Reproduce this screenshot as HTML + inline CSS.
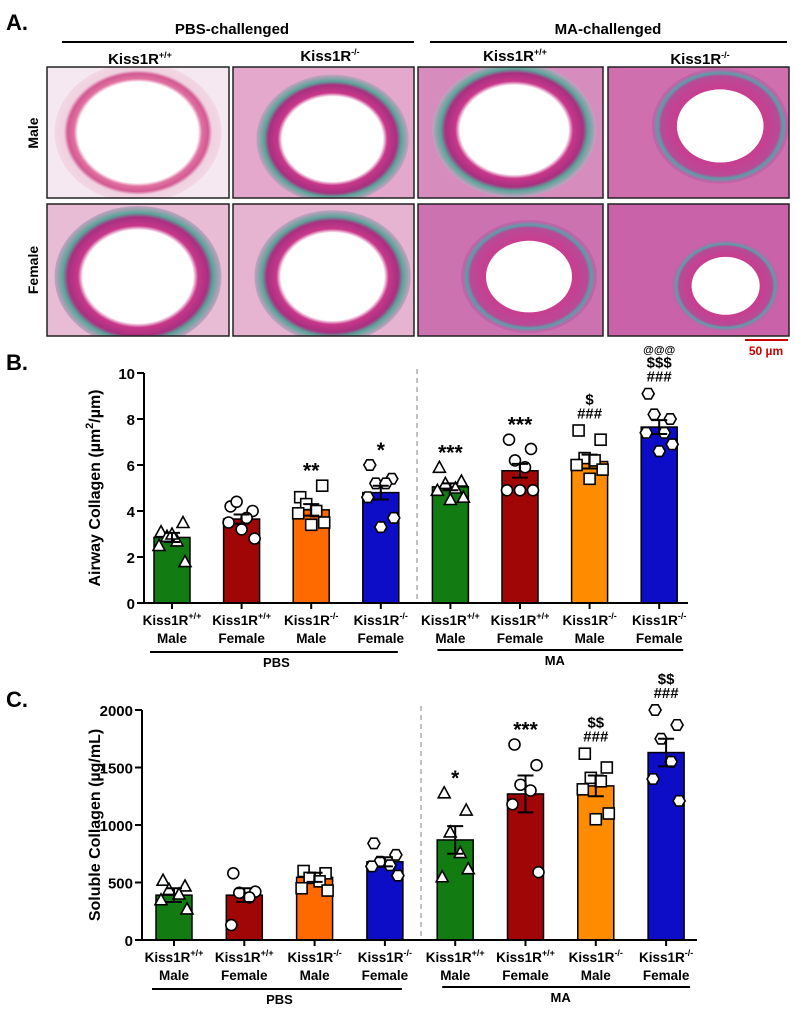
<!DOCTYPE html>
<html><head><meta charset="utf-8">
<style>
body{margin:0;background:#fff;width:796px;height:1016px;overflow:hidden;font-family:"Liberation Sans",Arial,sans-serif}
svg text{font-family:"Liberation Sans",Arial,sans-serif;font-weight:bold}
</style></head>
<body>
<svg id="fig" width="796" height="1016" viewBox="0 0 796 1016" xmlns="http://www.w3.org/2000/svg">
<defs>
<radialGradient id="tissA" cx="50%" cy="50%" r="60%"><stop offset="0" stop-color="#fff"/><stop offset="0.6" stop-color="#fff"/><stop offset="0.64" stop-color="#e070a0"/><stop offset="0.7" stop-color="#d25a92"/><stop offset="0.74" stop-color="#f0d0e0"/><stop offset="1" stop-color="#f6e6ee"/></radialGradient>
<radialGradient id="tissB" cx="50%" cy="50%" r="60%"><stop offset="0" stop-color="#fff"/><stop offset="0.55" stop-color="#fff"/><stop offset="0.6" stop-color="#c8378a"/><stop offset="0.7" stop-color="#a83080"/><stop offset="0.75" stop-color="#5aa59a"/><stop offset="0.85" stop-color="#dba0c8"/><stop offset="1" stop-color="#eecbe0"/></radialGradient>
<radialGradient id="tissC" cx="50%" cy="50%" r="60%"><stop offset="0" stop-color="#fff"/><stop offset="0.45" stop-color="#fff"/><stop offset="0.5" stop-color="#cc3b8e"/><stop offset="0.72" stop-color="#b84a96"/><stop offset="0.76" stop-color="#5a9ea8"/><stop offset="0.82" stop-color="#c660a8"/><stop offset="1" stop-color="#cc74b2"/></radialGradient>
</defs>
<g id="panelA">
<text x="6" y="30" font-size="22">A.</text>
<text x="232" y="34" font-size="15" text-anchor="middle">PBS-challenged</text>
<line x1="62" y1="42" x2="414" y2="42" stroke="#000" stroke-width="2"/>
<text x="608" y="34" font-size="15" text-anchor="middle">MA-challenged</text>
<line x1="430" y1="42" x2="787" y2="42" stroke="#000" stroke-width="2"/>
<text x="140" y="64" font-size="15" text-anchor="middle">Kiss1R<tspan font-size="9" dy="-6">+/+</tspan></text>
<text x="330" y="61" font-size="15" text-anchor="middle">Kiss1R<tspan font-size="9" dy="-6">-/-</tspan></text>
<text x="515" y="61" font-size="15" text-anchor="middle">Kiss1R<tspan font-size="9" dy="-6">+/+</tspan></text>
<text x="700" y="64" font-size="15" text-anchor="middle">Kiss1R<tspan font-size="9" dy="-6">-/-</tspan></text>
<text transform="translate(38,133) rotate(-90)" font-size="14" text-anchor="middle">Male</text>
<text transform="translate(38,270) rotate(-90)" font-size="14" text-anchor="middle">Female</text>
<g id="micro"></g>
<line x1="745" y1="340" x2="788" y2="340" stroke="#c00" stroke-width="2"/>
<text x="766" y="355" font-size="12" fill="#c00" text-anchor="middle">50 µm</text>
</g>
<g id="chartB"></g>
<g id="chartC"></g>
</svg>
<script>
// ---- Data ----
const groupsTop = ["Kiss1R+/+","Kiss1R+/+","Kiss1R-/-","Kiss1R-/-","Kiss1R+/+","Kiss1R+/+","Kiss1R-/-","Kiss1R-/-"];
const groupsSex = ["Male","Female","Male","Female","Male","Female","Male","Female"];
const barColors = ["#127c12","#a10606","#ff6a00","#0d0dc8","#127c12","#a10606","#ff8c00","#0d0dc8"];
const markers = ["tri","circ","sq","hex","tri","circ","sq","hex"];

const airwayMeans = [2.85,3.65,4.05,4.8,5.05,5.75,6.15,7.65];
const airwaySem = [0.2,0.2,0.25,0.3,0.15,0.3,0.3,0.3];
const airwayPoints = [
 [3.1,3.5,2.9,2.7,2.5,1.8,3.0],
 [4.2,4.0,4.4,3.7,3.5,2.8,3.2],
 [4.6,5.1,4.3,4.0,3.9,3.5,3.4],
 [6.0,5.4,5.2,5.2,4.6,3.7,3.3],
 [5.9,5.3,5.2,5.0,4.9,4.6,4.5],
 [7.1,6.7,6.2,5.9,4.9,4.9,4.9],
 [7.5,7.1,6.3,6.2,6.0,5.8,5.4],
 [9.1,8.0,8.2,7.4,7.4,6.9,6.6]];
const airwayTicks = [0,2,4,6,8,10];
const airwayAnnot = [[],[],["**"],["*"],["***"],["***"],["###","$"],["###","$$$","@@@"]];

const solMeans = [390,390,545,680,870,1270,1340,1630];
const solSem = [60,60,40,40,120,160,90,120];
const solPoints = [
 [520,470,440,400,350,270],
 [580,420,410,370,130],
 [600,580,540,510,450,430],
 [840,740,680,650,640,560],
 [1280,1130,940,760,550,620],
 [1700,1520,1350,1300,1180,590],
 [1620,1500,1410,1380,1310,1100,1050],
 [2000,1870,1750,1550,1400,1210]];
const solTicks = [0,500,1000,1500,2000];
const solAnnot = [[],[],[],[],["*"],["***"],["###","$$"],["###","$$"]];

const NS="http://www.w3.org/2000/svg";
function mk(tag,attrs,parent){const e=document.createElementNS(NS,tag);for(const k in attrs)e.setAttribute(k,attrs[k]);parent.appendChild(e);return e;}

// ---- Micrographs ----
const micro=document.getElementById('micro');
const cols=[[47,182],[233,181],[418,185],[608,181]];
const rows=[[67,131],[204,132]];
const grads=[["tissA","tissB","tissB","tissC"],["tissB","tissB","tissC","tissC"]];
const bgs=[["#f6e8f0","#e4a8cc","#d68cbc","#cf6fae"],["#e8bcd4","#e6b4d0","#cc72b0","#c962a8"]];
const lum=[[[0.5,0.5,0.85],[0.55,0.55,0.78],[0.52,0.48,0.82],[0.62,0.45,0.7]],[[0.5,0.55,0.85],[0.55,0.55,0.8],[0.6,0.55,0.68],[0.65,0.62,0.55]]];
rows.forEach((r,ri)=>cols.forEach((c,ci)=>{
 const g=mk('g',{},micro);
 
 
 const clipId='clip'+ri+ci;
 const cp=mk('clipPath',{id:clipId},g);
 mk('rect',{x:c[0],y:r[0],width:c[1],height:r[1]},cp);
 const inner=mk('g',{'clip-path':'url(#'+clipId+')'},g);
 mk('rect',{x:c[0],y:r[0],width:c[1],height:r[1],fill:bgs[ri][ci]},inner);
 const L=lum[ri][ci];
 const cx=c[0]+c[1]*L[0], cy=r[0]+r[1]*L[1], rx=c[1]*0.36*L[2], ry=r[1]*0.42*L[2];
 mk('ellipse',{cx:cx,cy:cy,rx:rx*1.5,ry:ry*1.5,fill:'url(#'+grads[ri][ci]+')'},inner);
 mk('ellipse',{cx:cx,cy:cy,rx:rx*0.95,ry:ry*0.95,fill:'#fff'},inner);
 mk('rect',{x:c[0],y:r[0],width:c[1],height:r[1],fill:'none',stroke:'#222','stroke-width':1.5},g);
}));

// ---- Bar chart builder ----
function markerShape(type,x,y,parent){
 const a={fill:'#fff',stroke:'#000','stroke-width':1.6};
 let e;
 if(type==='tri'){a.points=`${x},${y-6} ${x-6},${y+5} ${x+6},${y+5}`;e=mk('polygon',a,parent);}
 else if(type==='circ'){a.cx=x;a.cy=y;a.r=5.5;e=mk('circle',a,parent);}
 else if(type==='sq'){a.x=x-5.5;a.y=y-5.5;a.width=11;a.height=11;e=mk('rect',a,parent);}
 else{const p=[];for(let k=0;k<6;k++){const t=Math.PI/3*k;p.push((x+6*Math.cos(t))+','+(y+6*Math.sin(t)));}a.points=p.join(' ');e=mk('polygon',a,parent);}
 
 
}
function buildChart(gid,opts){
 const g=document.getElementById(gid);
 const y0=opts.y0,y1=opts.y1,vmax=opts.vmax,ax=opts.ax;
 const xPos=i=>opts.x0+i*opts.step;
 const yPos=v=>y0-(v/vmax)*(y0-y1);
 mk('line',{x1:opts.div,y1:y1-4,x2:opts.div,y2:y0,stroke:'#999','stroke-width':1.2,'stroke-dasharray':'5,4'},g);
 opts.means.forEach((m,i)=>{
  const b=mk('rect',{x:xPos(i)-18,y:yPos(m),width:36,height:y0-yPos(m),fill:barColors[i],stroke:'#000','stroke-width':1.5},g);
  
  
 });
 const offs=[-11,11,-5,5,-13,13,0];
 opts.points.forEach((arr,i)=>arr.forEach((v,k)=>markerShape(markers[i],xPos(i)+offs[k%offs.length],yPos(v),g)));
 opts.means.forEach((m,i)=>{
  const e=mk('path',{d:`M${xPos(i)},${yPos(m+opts.sem[i])}V${yPos(m-opts.sem[i])}M${xPos(i)-8},${yPos(m+opts.sem[i])}h16M${xPos(i)-8},${yPos(m-opts.sem[i])}h16`,stroke:'#000','stroke-width':2,fill:'none'},g);
  
  
 });
 opts.annot.forEach((lst,i)=>{
  const top=Math.max(opts.means[i]+opts.sem[i],Math.max(...opts.points[i]));
  lst.forEach((s,k)=>{
   const star=s[0]==='*';
   const t=mk('text',{x:xPos(i),y:yPos(top)-(star?8:12)-k*14,'font-size':s[0]==='@'?11:(star?21:15),'text-anchor':'middle'},g);
   t.textContent=s;
   
   
  });
 });
 mk('line',{x1:ax,y1:y1,x2:ax,y2:y0,stroke:'#000','stroke-width':2},g);
 mk('line',{x1:ax,y1:y0,x2:opts.axEnd,y2:y0,stroke:'#000','stroke-width':2},g);
 opts.ticks.forEach(t=>{
  mk('line',{x1:ax-7,y1:yPos(t),x2:ax,y2:yPos(t),stroke:'#000','stroke-width':2},g);
  const tl=mk('text',{x:ax-9,y:yPos(t)+6,'font-size':15,'text-anchor':'end'},g);
  tl.textContent=t;
  
  
 });
 groupsTop.forEach((gt,i)=>{
  const c=xPos(i);
  mk('line',{x1:c,y1:y0,x2:c,y2:y0+6,stroke:'#000','stroke-width':2},g);
  const t1=mk('text',{x:c,y:y0+22,'font-size':13.5,'text-anchor':'middle'},g);
  t1.textContent=gt.slice(0,6);
  const sp=mk('tspan',{'font-size':9,dy:-6},t1);sp.textContent=gt.slice(6);
  
  
  const t2=mk('text',{x:c,y:y0+40,'font-size':13.5,'text-anchor':'middle'},g);
  t2.textContent=groupsSex[i];
  
  
 });
 mk('line',{x1:xPos(0)-22,y1:y0+49,x2:xPos(3)+17,y2:y0+49,stroke:'#000','stroke-width':2},g);
 mk('line',{x1:xPos(4)-13,y1:y0+47,x2:xPos(7)+24,y2:y0+47,stroke:'#000','stroke-width':2},g);
 const p=mk('text',{x:(xPos(1)+xPos(2))/2,y:y0+64,'font-size':13,'text-anchor':'middle'},g);p.textContent='PBS';
 
 
 const q=mk('text',{x:(xPos(5)+xPos(6))/2,y:y0+62,'font-size':13,'text-anchor':'middle'},g);q.textContent='MA';
 
 
 const pl=mk('text',{x:6,y:opts.labelY,'font-size':22},g);pl.textContent=opts.panel;
 
 
 const yt=mk('text',{transform:`translate(100,${(y0+y1)/2}) rotate(-90)`,'font-size':16,'text-anchor':'middle'},g);
 yt.innerHTML=opts.title;
 
 
}
buildChart('chartB',{y0:603,y1:373,vmax:10,ax:144,axEnd:688,x0:172,step:69.6,div:417,means:airwayMeans,sem:airwaySem,points:airwayPoints,ticks:airwayTicks,annot:airwayAnnot,panel:'B.',labelY:370,title:'Airway Collagen (µm<tspan font-size="11" dy="-7">2</tspan><tspan dy="7">/µm)</tspan>'});
buildChart('chartC',{y0:940,y1:710,vmax:2000,ax:142,axEnd:697,x0:174,step:70.3,div:421,means:solMeans,sem:solSem,points:solPoints,ticks:solTicks,annot:solAnnot,panel:'C.',labelY:707,title:'Soluble Collagen (µg/mL)'});
</script>
</body></html>
